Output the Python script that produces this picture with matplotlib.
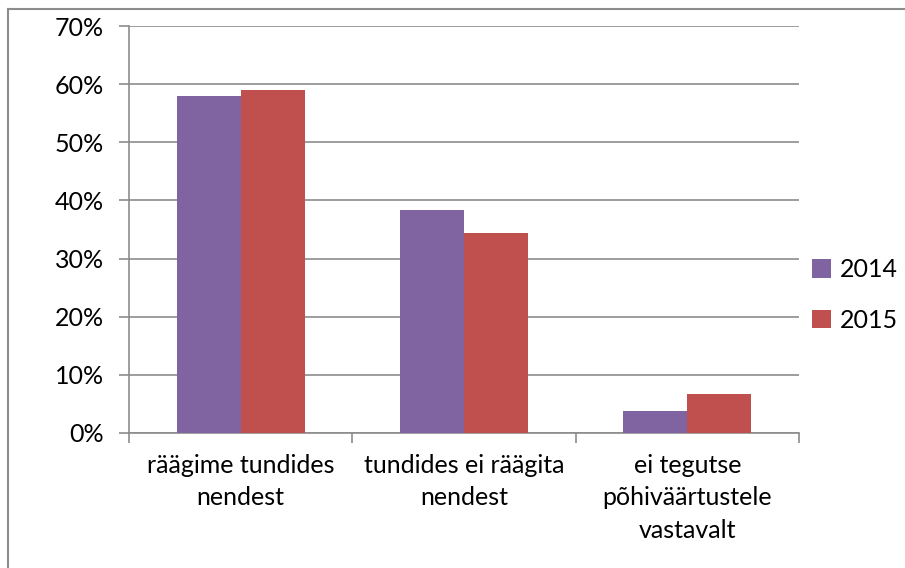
#!/usr/bin/env python3
import matplotlib
matplotlib.use("Agg")
import matplotlib.pyplot as plt
from matplotlib.lines import Line2D
from matplotlib.ticker import FuncFormatter, MultipleLocator
import numpy as np

categories = ["räägime tundides\nnendest",
              "tundides ei räägita\nnendest",
              "ei tegutse\npõhiväärtustele\nvastavalt"]
years = ["2014", "2015"]
values_2014 = [58.0, 38.3, 3.8]
values_2015 = [59.0, 34.4, 6.7]
colors = ["#8064A2", "#C0504D"]


def main():
    plt.rcParams["font.family"] = ["Lato", "DejaVu Sans"]
    fs = 18
    fig = plt.figure(figsize=(9.05, 5.68), dpi=100)
    ax = fig.add_axes([129 / 905, 1 - 433 / 568, 670 / 905, 407 / 568])

    x = np.arange(len(categories))
    w = 0.287
    ax.bar(x - w / 2, values_2014, w, color=colors[0], label=years[0],
           zorder=3)
    ax.bar(x + w / 2, values_2015, w, color=colors[1], label=years[1],
           zorder=3)

    ax.set_xlim(-0.5, len(categories) - 0.5)
    ax.set_ylim(0, 70)
    ax.yaxis.set_major_locator(MultipleLocator(10))
    ax.yaxis.set_major_formatter(FuncFormatter(lambda v, p: f"{v:.0f}%"))
    ax.grid(axis="y", color="#8c8c8c", linewidth=1.2, zorder=0)

    # category labels sit between the boundary ticks
    ax.set_xticks(np.arange(len(categories) + 1) - 0.5)
    ax.set_xticklabels([])
    ax.set_xticks(x, minor=True)
    ax.set_xticklabels(categories, minor=True, fontsize=fs,
                       linespacing=1.5)
    ax.tick_params(axis="x", which="minor", length=0, pad=15)
    ax.tick_params(axis="x", which="major", length=7, width=1.2,
                   color="#8c8c8c")
    ax.tick_params(axis="y", length=7, width=1.2, color="#8c8c8c",
                   labelsize=fs, pad=11)

    for side in ["top", "right"]:
        ax.spines[side].set_visible(False)
    for side in ["left", "bottom"]:
        ax.spines[side].set_color("#8c8c8c")
        ax.spines[side].set_linewidth(1.2)

    fig.legend(*ax.get_legend_handles_labels(), loc="center left",
               bbox_to_anchor=(812 / 905, 1 - 295 / 568),
               frameon=False, fontsize=fs, handlelength=0.75,
               handleheight=0.75, handletextpad=0.35, labelspacing=1.1,
               borderpad=0, borderaxespad=0)

    # chart area border (only top and left are in view)
    fig.add_artist(Line2D([8 / 905, 8 / 905], [0, 1 - 9 / 568],
                          color="#8c8c8c", linewidth=1.5))
    fig.add_artist(Line2D([8 / 905, 1], [1 - 9 / 568, 1 - 9 / 568],
                          color="#8c8c8c", linewidth=1.5))

    fig.savefig("out.png", dpi=100)


if __name__ == "__main__":
    main()
